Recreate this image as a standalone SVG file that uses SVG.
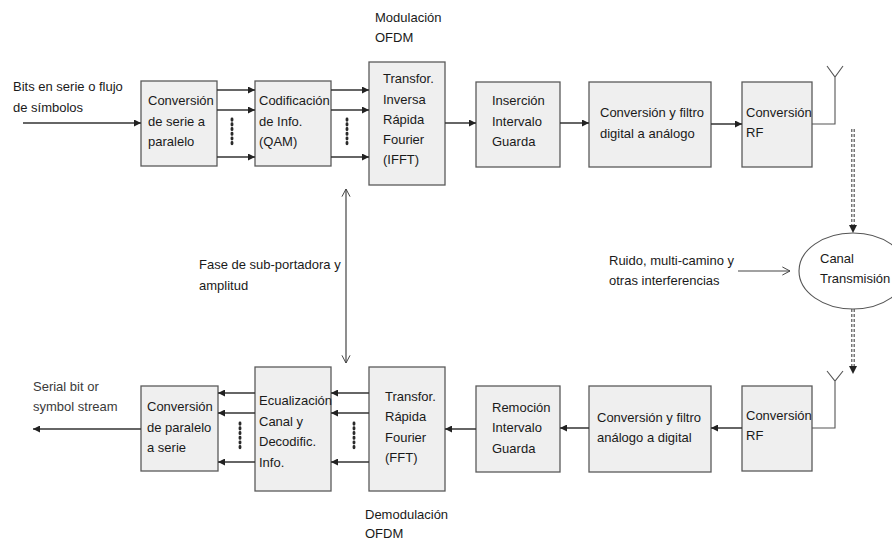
<svg xmlns="http://www.w3.org/2000/svg" width="892" height="542" viewBox="0 0 892 542">
  <style>
    .box { fill: #efefef; stroke: #5a5a5a; stroke-width: 1.3; }
    .t { font-family: "Liberation Sans", Arial, sans-serif; font-size: 13px; fill: #1a1a1a; }
    .ta { font-family: "Liberation Sans", Arial, sans-serif; font-size: 13px; fill: #3a3a3a; }
    .arr { fill: none; stroke: #333; stroke-width: 1.5; marker-end: url(#tri); }
    .thin { fill: none; stroke: #555; stroke-width: 1.1; }
    .link { fill: none; stroke: #444; stroke-width: 1.2; }
    .dots { fill: none; stroke: #2a2a2a; stroke-width: 2.8; stroke-dasharray: 1.3 3.4; stroke-linecap: round; }
    .dash { fill: none; stroke: #555; stroke-width: 1.2; stroke-dasharray: 3 2; }
  </style>
  <defs>
    <marker id="tri" viewBox="0 0 10 10" refX="10" refY="5" markerWidth="7" markerHeight="7" markerUnits="userSpaceOnUse" orient="auto">
      <path d="M0,0 L10,5 L0,10 Z" fill="#222"/>
    </marker>
    <marker id="vee" viewBox="0 0 10 10" refX="9.5" refY="5" markerWidth="9" markerHeight="14" markerUnits="userSpaceOnUse" orient="auto">
      <path d="M1,0.5 L9.5,5 L1,9.5" fill="none" stroke="#444" stroke-width="1.1"/>
    </marker>
    <marker id="veeS" viewBox="0 0 10 10" refX="0.5" refY="5" markerWidth="9" markerHeight="14" markerUnits="userSpaceOnUse" orient="auto">
      <path d="M9,0.5 L0.5,5 L9,9.5" fill="none" stroke="#444" stroke-width="1.1"/>
    </marker>
  </defs>

  <!-- free labels -->
  <text class="t" x="13" y="91">Bits en serie o flujo</text>
  <text class="t" x="13" y="112">de símbolos</text>
  <text class="t" x="375" y="22">Modulación</text>
  <text class="t" x="375" y="42">OFDM</text>
  <text class="t" x="199" y="269">Fase de sub-portadora y</text>
  <text class="t" x="199" y="290">amplitud</text>
  <text class="t" x="609" y="265">Ruido, multi-camino y</text>
  <text class="t" x="609" y="285">otras interferencias</text>
  <text class="ta" x="33" y="391">Serial bit or</text>
  <text class="ta" x="33" y="411">symbol stream</text>
  <text class="t" x="365" y="519">Demodulación</text>
  <text class="t" x="365" y="538">OFDM</text>

  <!-- transmitter chain -->
  <g id="tx-sp">
    <rect class="box" x="141" y="81" width="76" height="85"/>
    <text class="t" x="148" y="105">Conversión</text>
    <text class="t" x="148" y="126">de serie a</text>
    <text class="t" x="148" y="146">paralelo</text>
  </g>
  <g id="tx-qam">
    <rect class="box" x="255" y="81" width="76" height="85"/>
    <text class="t" x="259" y="105">Codificación</text>
    <text class="t" x="259" y="126">de Info.</text>
    <text class="t" x="259" y="146">(QAM)</text>
  </g>
  <g id="tx-ifft">
    <rect class="box" x="369" y="62" width="76" height="123"/>
    <text class="t" x="383" y="83">Transfor.</text>
    <text class="t" x="383" y="104">Inversa</text>
    <text class="t" x="383" y="124">Rápida</text>
    <text class="t" x="383" y="144">Fourier</text>
    <text class="t" x="383" y="164">(IFFT)</text>
  </g>
  <g id="tx-cp">
    <rect class="box" x="476" y="82" width="84" height="85"/>
    <text class="t" x="492" y="105">Inserción</text>
    <text class="t" x="492" y="126">Intervalo</text>
    <text class="t" x="492" y="146">Guarda</text>
  </g>
  <g id="tx-dac">
    <rect class="box" x="589" y="82" width="122" height="85"/>
    <text class="t" x="600" y="117">Conversión y filtro</text>
    <text class="t" x="600" y="138">digital a análogo</text>
  </g>
  <g id="tx-rf">
    <rect class="box" x="742" y="82" width="70" height="85"/>
    <text class="t" x="746" y="117">Conversión</text>
    <text class="t" x="746" y="137">RF</text>
  </g>

  <!-- channel -->
  <g id="channel">
    <ellipse cx="853" cy="271" rx="54" ry="38" fill="#fff" stroke="#555" stroke-width="1.1"/>
    <text class="t" x="820" y="263">Canal</text>
    <text class="t" x="820" y="283">Transmisión</text>
  </g>

  <!-- receiver chain -->
  <g id="rx-rf">
    <rect class="box" x="742" y="386" width="70" height="85"/>
    <text class="t" x="746" y="420">Conversión</text>
    <text class="t" x="746" y="440">RF</text>
  </g>
  <g id="rx-adc">
    <rect class="box" x="589" y="386" width="122" height="86"/>
    <text class="t" x="597" y="422">Conversión y filtro</text>
    <text class="t" x="597" y="442">análogo a digital</text>
  </g>
  <g id="rx-cp">
    <rect class="box" x="476" y="386" width="84" height="86"/>
    <text class="t" x="492" y="412">Remoción</text>
    <text class="t" x="492" y="432">Intervalo</text>
    <text class="t" x="492" y="453">Guarda</text>
  </g>
  <g id="rx-fft">
    <rect class="box" x="369" y="367" width="76" height="124"/>
    <text class="t" x="385" y="401">Transfor.</text>
    <text class="t" x="385" y="421">Rápida</text>
    <text class="t" x="385" y="442">Fourier</text>
    <text class="t" x="385" y="462">(FFT)</text>
  </g>
  <g id="rx-eq">
    <rect class="box" x="255" y="367" width="76" height="124"/>
    <text class="t" x="259" y="405">Ecualización</text>
    <text class="t" x="259" y="426">Canal y</text>
    <text class="t" x="259" y="446">Decodific.</text>
    <text class="t" x="259" y="467">Info.</text>
  </g>
  <g id="rx-ps">
    <rect class="box" x="141" y="386" width="77" height="85"/>
    <text class="t" x="147" y="411">Conversión</text>
    <text class="t" x="147" y="432">de paralelo</text>
    <text class="t" x="147" y="452">a serie</text>
  </g>

  <!-- connectors -->
  <g id="connectors">
    <!-- transmitter -->
    <path class="arr" d="M23,123 H141"/>
    <path class="arr" d="M217,90 H255"/>
    <path class="arr" d="M217,110 H255"/>
    <path class="arr" d="M217,157 H255"/>
    <path class="dots" d="M232,119 V145"/>
    <path class="arr" d="M331,90 H369"/>
    <path class="arr" d="M331,110 H369"/>
    <path class="arr" d="M331,157 H369"/>
    <path class="dots" d="M347,119 V145"/>
    <path class="arr" d="M445,123 H476"/>
    <path class="arr" d="M560,123 H589"/>
    <path class="arr" d="M711,124 H742"/>
    <!-- transmit antenna -->
    <path class="thin" d="M812,124 H835 V77 M827,66 L835,77 L843,66"/>
    <!-- radio path through the channel -->
    <path class="dash" d="M851.8,129 V226 M854.2,129 V226"/>
    <path d="M849,225 L857,225 L853,233 Z" fill="#222"/>
    <path class="dash" d="M851.8,309 V367 M854.2,309 V367"/>
    <path d="M849,366 L857,366 L853,374 Z" fill="#222"/>
    <path class="link" d="M738,271 H790" marker-end="url(#vee)"/>
    <!-- receive antenna -->
    <path class="thin" d="M812,428 H835 V381 M827,371 L835,381 L843,371"/>
    <!-- receiver -->
    <path class="arr" d="M742,428 H711"/>
    <path class="arr" d="M589,428 H560"/>
    <path class="arr" d="M476,429 H445"/>
    <path class="arr" d="M369,393 H331"/>
    <path class="arr" d="M369,413 H331"/>
    <path class="arr" d="M369,462 H331"/>
    <path class="dots" d="M354,423 V449"/>
    <path class="arr" d="M255,393 H218"/>
    <path class="arr" d="M255,413 H218"/>
    <path class="arr" d="M255,462 H218"/>
    <path class="dots" d="M240,423 V449"/>
    <path class="arr" d="M141,429 H33"/>
    <!-- sub-carrier phase/amplitude link -->
    <path class="link" d="M346,189 V363" marker-start="url(#veeS)" marker-end="url(#vee)"/>
  </g>
</svg>
